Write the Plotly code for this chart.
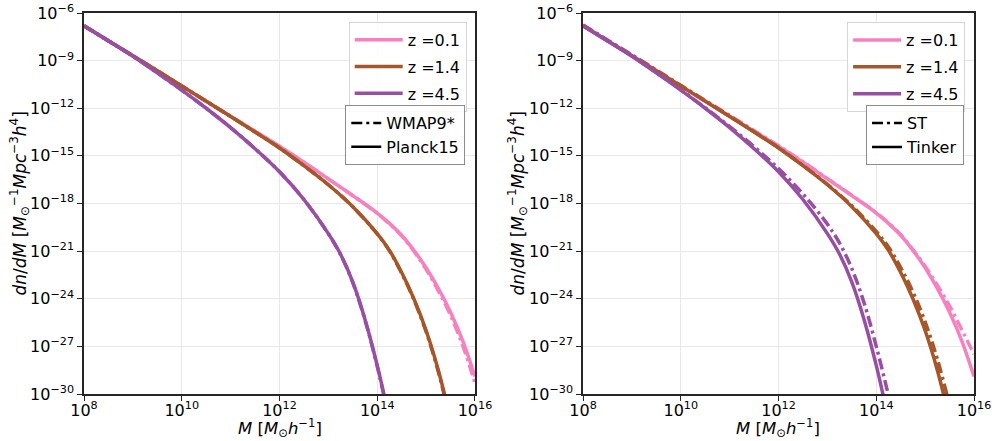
import plotly.graph_objects as go
from plotly.subplots import make_subplots

# ---------------- data (log10 M, log10 dn/dM) ----------------
z_labels = ["z =0.1", "z =1.4", "z =4.5"]
colors = ["#f781bf", "#a65628", "#984ea3"]

# Planck15 (left, solid) -- also Tinker (right, solid)
pink_x = [8, 8.5, 9, 9.5, 10, 10.5, 11, 11.5, 12, 12.5, 13, 13.5, 14, 14.25, 14.5, 14.75, 15, 15.25, 15.5, 15.75, 16]
pink_y = [-6.80, -7.75, -8.69, -9.64, -10.60, -11.55, -12.50, -13.45, -14.40, -15.40, -16.45, -17.50,
          -18.60, -19.25, -20.00, -20.95, -22.05, -23.35, -24.85, -26.65, -28.90]
brown_x = [8, 8.5, 9, 9.5, 10, 10.5, 11, 11.5, 12, 12.5, 13, 13.5, 14, 14.25, 14.5, 14.75, 15, 15.25, 15.5]
brown_y = [-6.80, -7.75, -8.69, -9.64, -10.60, -11.56, -12.52, -13.50, -14.50, -15.62, -16.82, -18.20,
           -19.90, -20.95, -22.35, -24.00, -26.00, -28.50, -31.60]
purple_x = [8, 8.5, 9, 9.5, 10, 10.5, 11, 11.5, 12, 12.5, 13, 13.25, 13.5, 13.75, 14, 14.25]
purple_y = [-6.82, -7.76, -8.72, -9.77, -10.86, -12.00, -13.22, -14.55, -16.00, -17.75, -19.90, -21.20,
            -22.95, -25.30, -28.20, -31.60]

# WMAP9* (left, dash-dot)
pink_w_y = [-6.80, -7.75, -8.69, -9.64, -10.60, -11.55, -12.50, -13.45, -14.40, -15.40, -16.45, -17.51,
            -18.62, -19.28, -20.04, -21.01, -22.15, -23.50, -25.05, -26.95, -29.30]
brown_w_y = [-6.80, -7.75, -8.69, -9.64, -10.60, -11.56, -12.52, -13.50, -14.50, -15.62, -16.82, -18.21,
             -19.92, -20.98, -22.40, -24.06, -26.08, -28.60, -31.75]
purple_w_y = [-6.82, -7.76, -8.72, -9.77, -10.86, -12.00, -13.22, -14.55, -16.00, -17.75, -19.91, -21.22,
              -22.98, -25.34, -28.26, -31.70]

# ST (right, dash-dot)
pink_st_x = [8, 8.5, 9, 9.5, 10, 10.5, 11, 11.5, 12, 12.5, 13, 13.5, 14, 14.25, 14.5, 14.75, 15, 15.25, 15.5, 15.75, 16]
pink_st_y = [-6.75, -7.70, -8.64, -9.59, -10.55, -11.50, -12.45, -13.40, -14.36, -15.37, -16.43, -17.48,
             -18.58, -19.22, -19.97, -20.90, -21.95, -23.15, -24.45, -25.95, -27.50]
brown_st_x = [8, 8.5, 9, 9.5, 10, 10.5, 11, 11.5, 12, 12.5, 13, 13.5, 14, 14.25, 14.5, 14.75, 15, 15.25, 15.5]
brown_st_y = [-6.76, -7.71, -8.65, -9.60, -10.57, -11.53, -12.50, -13.48, -14.48, -15.60, -16.79, -18.14,
              -19.76, -20.74, -22.03, -23.57, -25.45, -27.80, -30.70]
purple_st_x = [8, 8.5, 9, 9.5, 10, 10.5, 11, 11.5, 12, 12.5, 13, 13.25, 13.5, 13.75, 14, 14.25, 14.4]
purple_st_y = [-6.78, -7.73, -8.70, -9.75, -10.84, -11.97, -13.15, -14.42, -15.80, -17.40, -19.30, -20.50,
               -22.10, -24.25, -27.00, -30.10, -32.20]

x_tick_exp = [8, 10, 12, 14, 16]
y_tick_exp = [-30, -27, -24, -21, -18, -15, -12, -9, -6]

FONT = "DejaVu Sans"


def tolin(v):
    return [10 ** a for a in v]


def sup(e):
    return "10<sup>" + str(e).replace("-", "\u2212") + "</sup>"


fig = make_subplots(rows=1, cols=2, horizontal_spacing=0.1214)

DASHDOT = "11px,4px,3px,4px"
LW = 3.5

left_solid = [(pink_x, pink_y), (brown_x, brown_y), (purple_x, purple_y)]
left_dash = [(pink_x, pink_w_y), (brown_x, brown_w_y), (purple_x, purple_w_y)]
right_dash = [(pink_st_x, pink_st_y), (brown_st_x, brown_st_y), (purple_st_x, purple_st_y)]

# left panel
for i in range(3):
    xs, ys = left_dash[i]
    fig.add_trace(go.Scatter(x=tolin(xs), y=tolin(ys), mode="lines", line_shape="spline",
                             line=dict(color=colors[i], width=LW, dash=DASHDOT),
                             showlegend=False, hoverinfo="skip"), row=1, col=1)
    xs, ys = left_solid[i]
    fig.add_trace(go.Scatter(x=tolin(xs), y=tolin(ys), mode="lines", line_shape="spline",
                             line=dict(color=colors[i], width=LW), name=z_labels[i],
                             legend="legend", legendgroup="g%d" % i, showlegend=True,
                             hoverinfo="skip"), row=1, col=1)

# right panel
for i in range(3):
    xs, ys = left_solid[i]
    fig.add_trace(go.Scatter(x=tolin(xs), y=tolin(ys), mode="lines", line_shape="spline",
                             line=dict(color=colors[i], width=LW), name=z_labels[i],
                             legend="legend3", legendgroup="h%d" % i, showlegend=True,
                             hoverinfo="skip"), row=1, col=2)
    xs, ys = right_dash[i]
    fig.add_trace(go.Scatter(x=tolin(xs), y=tolin(ys), mode="lines", line_shape="spline",
                             line=dict(color=colors[i], width=LW, dash=DASHDOT),
                             showlegend=False, hoverinfo="skip"), row=1, col=2)

# style legends
for name, dash, leg, c in [("WMAP9*", DASHDOT, "legend2", 1), ("Planck15", "solid", "legend2", 1),
                           ("ST", DASHDOT, "legend4", 2), ("Tinker", "solid", "legend4", 2)]:
    fig.add_trace(go.Scatter(x=[None], y=[None], mode="lines",
                             line=dict(color="black", width=2.5, dash=dash), name=name,
                             legend=leg, showlegend=True, hoverinfo="skip"), row=1, col=c)

axis_common = dict(type="log", showline=True, linecolor="#262626", linewidth=1.5, mirror=True,
                   ticks="outside", ticklen=5, tickwidth=1.2, tickcolor="#262626",
                   showgrid=True, gridcolor="#e8e8e8", gridwidth=1, zeroline=False,
                   automargin=False, ticklabeloverflow="allow",
                   tickfont=dict(family=FONT, size=16, color="black"))

xt = dict(tickmode="array", tickvals=[10 ** e for e in x_tick_exp], ticktext=[sup(e) for e in x_tick_exp])
yt = dict(tickmode="array", tickvals=[10 ** e for e in y_tick_exp], ticktext=[sup(e) for e in y_tick_exp])

xtitle = "<i>M</i> [<i>M</i><sub>\u2299</sub><i>h</i><sup>\u22121</sup>]"
ytitle = ("<i>dn</i>/<i>dM</i> [<i>M</i><sub>\u2299</sub><sup>\u22121</sup>"
          "<i>Mpc</i><sup>\u22123</sup><i>h</i><sup>4</sup>]")

for c in (1, 2):
    fig.update_xaxes(range=[8, 16], **axis_common, **xt, ticklabelstandoff=-4, row=1, col=c)
    fig.update_yaxes(range=[-30, -6], **axis_common, **yt, row=1, col=c)

title_font = dict(family=FONT, size=17, color="black")
xtitle_font = dict(family=FONT, size=16.5, color="black")
annots = [
    dict(text=xtitle, x=0.2197, y=-0.089, xref="paper", yref="paper", xanchor="center", yanchor="middle",
         showarrow=False, font=xtitle_font),
    dict(text=xtitle, x=0.7803, y=-0.089, xref="paper", yref="paper", xanchor="center", yanchor="middle",
         showarrow=False, font=xtitle_font),
    dict(text=ytitle, x=-0.0719, y=0.5, xref="paper", yref="paper", xanchor="center", yanchor="middle",
         textangle=-90, showarrow=False, font=title_font),
    dict(text=ytitle, x=0.4876, y=0.5, xref="paper", yref="paper", xanchor="center", yanchor="middle",
         textangle=-90, showarrow=False, font=title_font),
]

leg_font = dict(family=FONT, size=16, color="black")
fig.update_layout(
    width=992, height=441,
    margin=dict(l=84, r=18, t=13, b=47),
    paper_bgcolor="white", plot_bgcolor="white",
    font=dict(family=FONT, size=15, color="black"),
    annotations=annots,
    legend=dict(x=0.430, y=0.977, xanchor="right", yanchor="top", bgcolor="rgba(255,255,255,0.85)",
                bordercolor="#d6d6d6", borderwidth=1, font=leg_font, tracegroupgap=3, itemwidth=48),
    legend2=dict(x=0.4284, y=0.7585, xanchor="right", yanchor="top", bgcolor="rgba(255,255,255,0.85)",
                 bordercolor="#8c8c8c", borderwidth=1, font=leg_font, tracegroupgap=0),
    legend3=dict(x=0.990, y=0.976, xanchor="right", yanchor="top", bgcolor="rgba(255,255,255,0.85)",
                 bordercolor="#d6d6d6", borderwidth=1, font=leg_font, tracegroupgap=3, itemwidth=48),
    legend4=dict(x=0.9888, y=0.758, xanchor="right", yanchor="top", bgcolor="rgba(255,255,255,0.85)",
                 bordercolor="#8c8c8c", borderwidth=1, font=leg_font, tracegroupgap=0),
)

# remove the browser's default 8px body margin so the figure sits at the page origin
fig.write_html("out.html", config={"displayModeBar": False},
               post_script="document.body.style.margin='0';document.body.style.overflow='hidden';")
